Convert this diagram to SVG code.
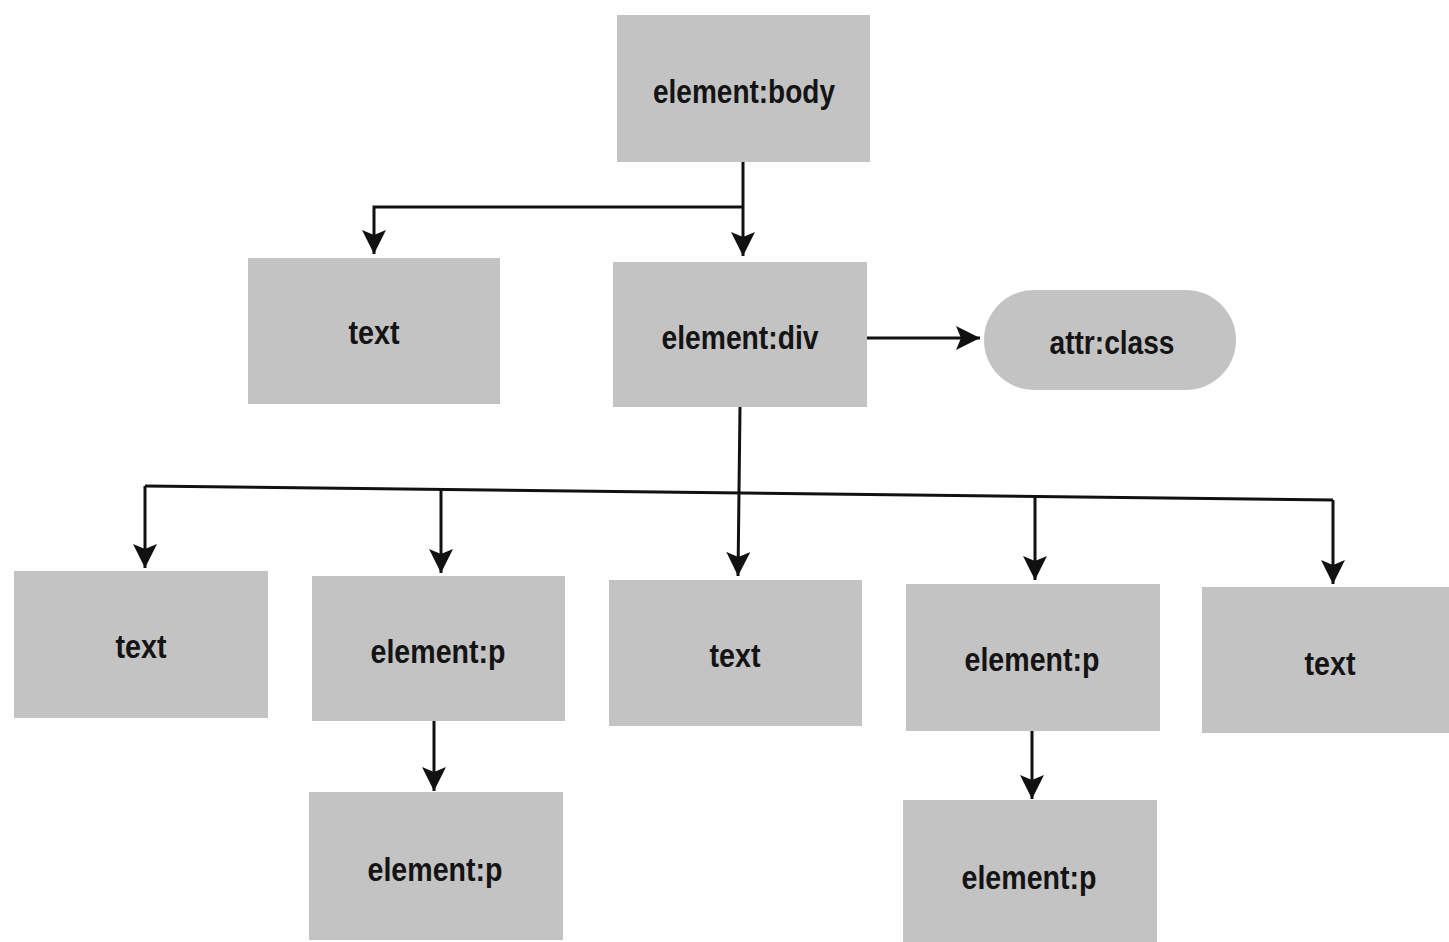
<svg xmlns="http://www.w3.org/2000/svg" width="1449" height="942" viewBox="0 0 1449 942">
<style>
.box{fill:#c3c3c3}
.lbl{font-family:"Liberation Sans",Arial,sans-serif;font-weight:bold;font-size:34px;fill:#141414;text-anchor:middle}
.con{fill:none;stroke:#111;stroke-width:3}
</style>
<defs>
<marker id="ah" markerUnits="userSpaceOnUse" markerWidth="26" markerHeight="24" refX="24" refY="12" orient="auto">
<path d="M0,0 L24,12 L0,24 L5,12 Z" fill="#111"/>
</marker>
</defs>
<rect width="1449" height="942" fill="#ffffff"/>
<g id="connectors">
<path class="con" d="M743,162 V256" marker-end="url(#ah)"/>
<path class="con" d="M743,207 H374 V254" marker-end="url(#ah)"/>
<path class="con" d="M867,338 H980" marker-end="url(#ah)"/>
<path class="con" d="M740,407 L738,576" marker-end="url(#ah)"/>
<path class="con" d="M145,486 L1333,500"/>
<path class="con" d="M145,486 V568" marker-end="url(#ah)"/>
<path class="con" d="M441,490 V573" marker-end="url(#ah)"/>
<path class="con" d="M1035,497 V580" marker-end="url(#ah)"/>
<path class="con" d="M1333,500 V584" marker-end="url(#ah)"/>
<path class="con" d="M434,721 V791" marker-end="url(#ah)"/>
<path class="con" d="M1032,731 V799" marker-end="url(#ah)"/>
</g>
<g id="body"><rect class="box" x="617" y="15" width="253" height="147"/><text class="lbl" x="744" y="103" textLength="182" lengthAdjust="spacingAndGlyphs">element:body</text></g>
<g id="text1"><rect class="box" x="248" y="258" width="252" height="146"/><text class="lbl" x="374" y="344" textLength="51" lengthAdjust="spacingAndGlyphs">text</text></g>
<g id="div"><rect class="box" x="613" y="262" width="254" height="145"/><text class="lbl" x="740" y="349" textLength="157" lengthAdjust="spacingAndGlyphs">element:div</text></g>
<g id="attr"><rect class="box" x="984" y="290" width="252" height="100" rx="50" ry="50"/><text class="lbl" x="1112" y="354" textLength="125" lengthAdjust="spacingAndGlyphs">attr:class</text></g>
<g id="text2"><rect class="box" x="14" y="571" width="254" height="147"/><text class="lbl" x="141" y="658" textLength="51" lengthAdjust="spacingAndGlyphs">text</text></g>
<g id="p1"><rect class="box" x="312" y="576" width="253" height="145"/><text class="lbl" x="438" y="663" textLength="135" lengthAdjust="spacingAndGlyphs">element:p</text></g>
<g id="text3"><rect class="box" x="609" y="580" width="253" height="146"/><text class="lbl" x="735" y="667" textLength="51" lengthAdjust="spacingAndGlyphs">text</text></g>
<g id="p2"><rect class="box" x="906" y="584" width="254" height="147"/><text class="lbl" x="1032" y="671" textLength="135" lengthAdjust="spacingAndGlyphs">element:p</text></g>
<g id="text4"><rect class="box" x="1202" y="587" width="260" height="146"/><text class="lbl" x="1330" y="675" textLength="51" lengthAdjust="spacingAndGlyphs">text</text></g>
<g id="p3"><rect class="box" x="309" y="792" width="254" height="148"/><text class="lbl" x="435" y="881" textLength="135" lengthAdjust="spacingAndGlyphs">element:p</text></g>
<g id="p4"><rect class="box" x="903" y="800" width="254" height="150"/><text class="lbl" x="1029" y="889" textLength="135" lengthAdjust="spacingAndGlyphs">element:p</text></g>
</svg>
